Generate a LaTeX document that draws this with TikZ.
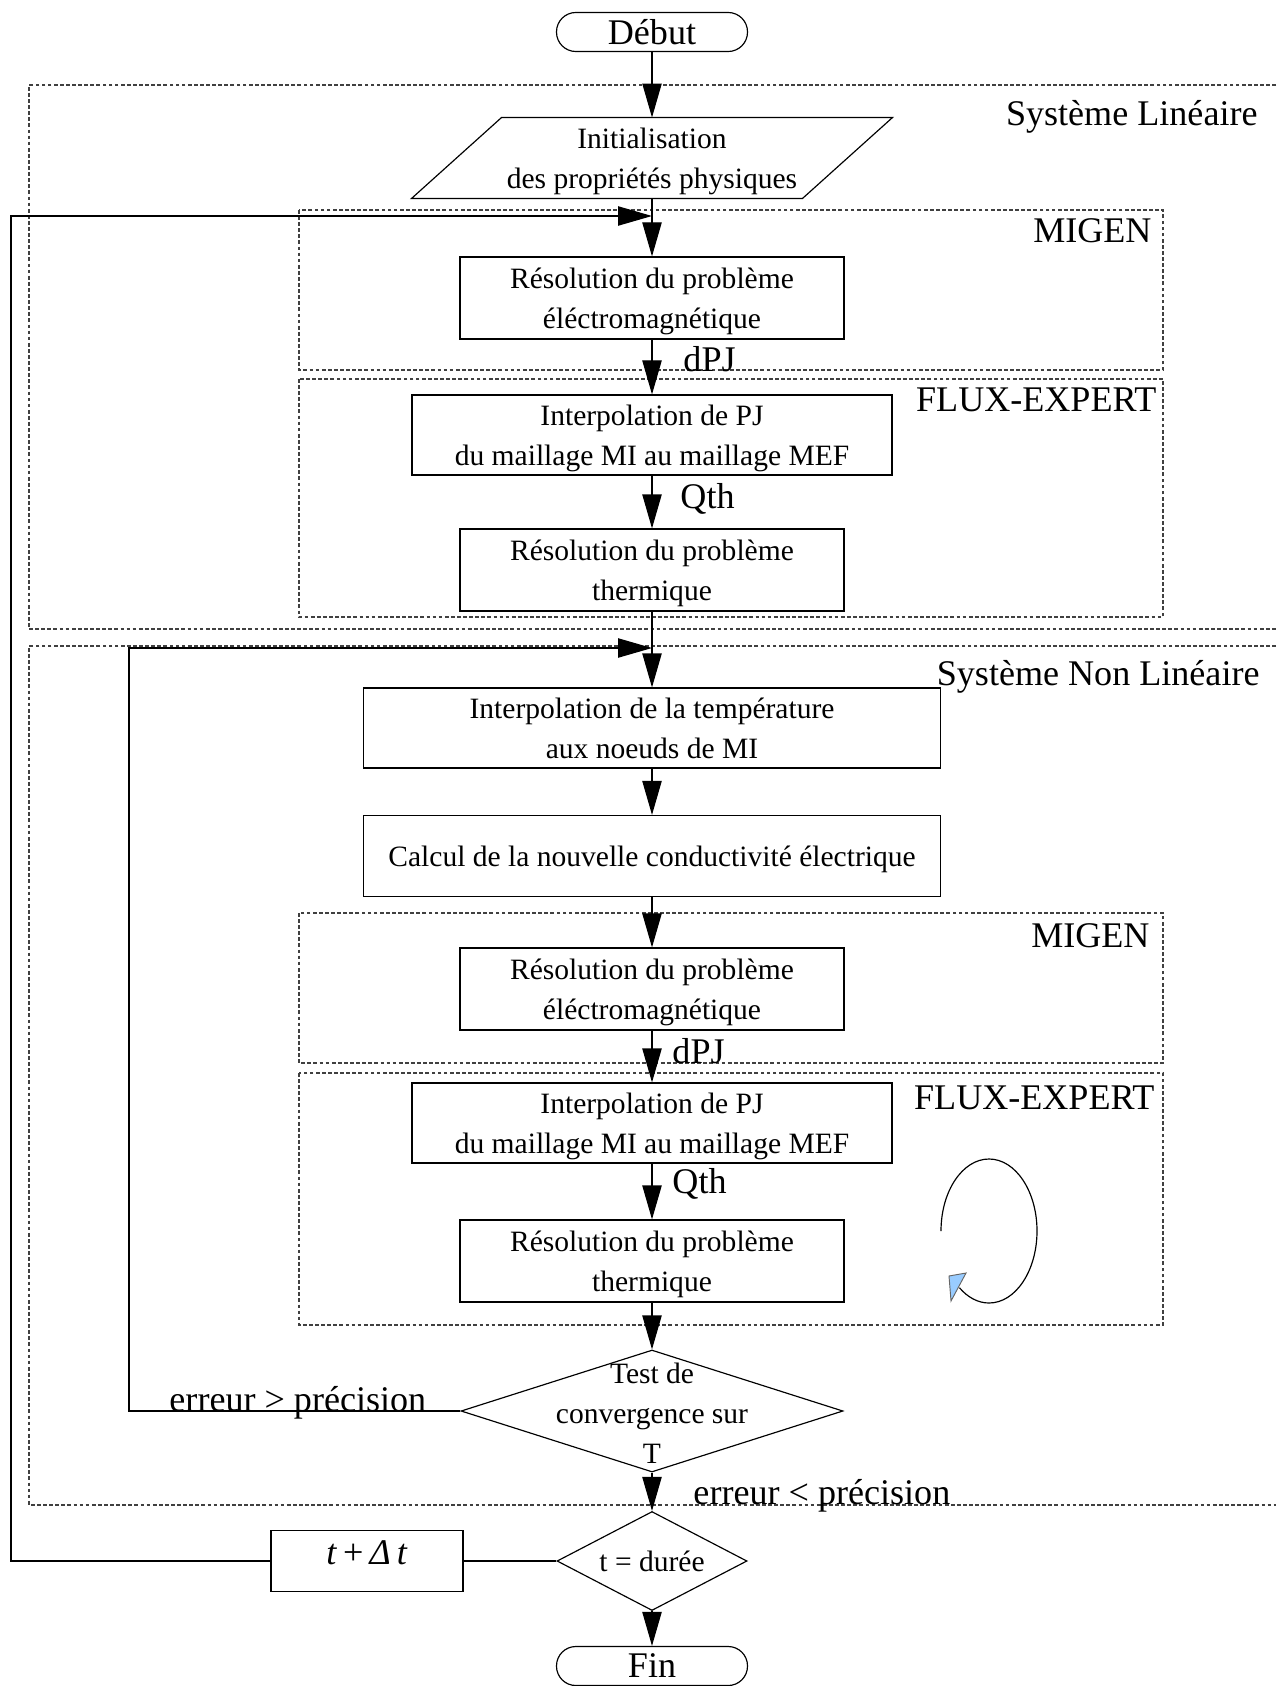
\documentclass[tikz,border=0pt]{standalone}
\usepackage{fontspec}
\setmainfont{Liberation Serif}
\usetikzlibrary{positioning, arrows.meta, shapes.geometric, calc}

\definecolor{turnblue}{HTML}{99CCFF}
\def\pix{0.015cm}
\newcommand{\boxfont}{\fontsize{12.6}{17}\selectfont}
\newcommand{\bigfont}{\fontsize{15.4}{18}\selectfont}

\tikzset{
    line/.style={line width=0.5pt, draw=black},
    flow/.style={line, -{Triangle[length=5.1mm, width=2.9mm]}},
    zone/.style={draw=black!75, line width=0.5pt, dash pattern=on 1.6pt off 1pt},
    zonelabel/.style={anchor=east, font=\bigfont, inner sep=0pt},
    flowlabel/.style={anchor=west, font=\bigfont, inner sep=0pt},
    procbox/.style={rectangle, line, inner sep=0pt, font=\boxfont, align=center,
        text depth=0pt, minimum width=5.76cm, minimum height=1.23cm},
    widebox/.style={procbox, minimum width=7.2cm, minimum height=1.2cm},
    longbox/.style={procbox, minimum width=8.655cm, minimum height=1.2cm},
    terminal/.style={rectangle, line, rounded corners=0.29cm, inner sep=0pt,
        font=\bigfont, minimum width=2.865cm, minimum height=0.585cm},
    decision/.style={diamond, line, inner sep=0pt, aspect=1}
}

\begin{document}
\begin{tikzpicture}[x=\pix, y=-\pix]
    \useasboundingbox (0,0) rectangle (1276,1686);
    \clip (0,0) rectangle (1276,1686);

    % zones
    \draw[zone] (1276,85) -- (29,85) -- (29,629) -- (1276,629);
    \draw[zone] (1276,646) -- (29,646) -- (29,1505) -- (1276,1505);
    \draw[zone] (299,210) rectangle (1163,370);
    \draw[zone] (299,379) rectangle (1163,617);
    \draw[zone] (299,913) rectangle (1163,1063);
    \draw[zone] (299,1073) rectangle (1163,1325);

    \node[zonelabel] (lin) at (1258,117) {Système Linéaire};
    \node[zonelabel] (nonlin) at (1260,677) {Système Non Linéaire};
    \node[zonelabel] (migenA) at (1152,231) {MIGEN};
    \node[zonelabel] (fluxA) at (1157,400) {FLUX-EXPERT};
    \node[zonelabel] (migenB) at (1150,936) {MIGEN};
    \node[zonelabel] (fluxB) at (1155,1098) {FLUX-EXPERT};

    % steps
    \node[terminal] (debut) at (652,32) {Début};
    \node[inner sep=0pt, font=\boxfont, align=center, text depth=0pt,
        minimum width=5.85cm, minimum height=1.2cm] (init) at (652,158)
        {Initialisation\\des propriétés physiques};
    \draw[line] ([xshift=-0.675cm]init.south west) -- ([xshift=-0.675cm]init.south east)
        -- ([xshift=0.675cm]init.north east) -- ([xshift=0.675cm]init.north west) -- cycle;

    \node[procbox] (emA) at (652,298) {Résolution du problème\\éléctromagnétique};
    \node[widebox] (ipA) at (652,435) {Interpolation de PJ\\du maillage MI au maillage MEF};
    \node[procbox] (thA) at (652,570) {Résolution du problème\\thermique};

    \node[longbox] (temp) at (652,728) {Interpolation de la température\\aux noeuds de MI};
    \node[longbox, minimum height=1.215cm] (calc) at (652,856) {Calcul de la nouvelle conductivité électrique};
    \node[procbox] (emB) at (652,989) {Résolution du problème\\éléctromagnétique};
    \node[widebox] (ipB) at (652,1123) {Interpolation de PJ\\du maillage MI au maillage MEF};
    \node[procbox] (thB) at (652,1261) {Résolution du problème\\thermique};

    \node[decision, minimum width=5.73cm, minimum height=1.83cm] (conv) at (652,1411) {};
    \node[font=\boxfont, align=center, inner sep=0pt] (convtext) at (652,1413)
        {Test de\\convergence sur\\T};
    \node[decision, minimum width=2.85cm, minimum height=1.485cm] (dur) at (652,1561) {};
    \node[font=\boxfont, inner sep=0pt] (durtext) at (652,1561) {t = durée};
    \node[procbox, minimum width=2.88cm, minimum height=0.915cm] (dt) at (367,1561) {};
    \node[font=\bigfont, inner sep=0pt] (dttext) at (367,1553) {\textit{t}\,+\,\textit{Δ\,t}};
    \node[terminal] (fin) at (652,1666) {Fin};

    % flow
    \coordinate (backA) at (652,216);
    \coordinate (backB) at (652,648);
    \draw[flow] (debut) -- (init);
    \draw[flow] (init) -- (emA);
    \draw[flow] (emA) -- (ipA);
    \draw[flow] (ipA) -- (thA);
    \draw[flow] (thA) -- (temp);
    \draw[flow] (temp) -- (calc);
    \draw[flow] (calc) -- (emB);
    \draw[flow] (emB) -- (ipB);
    \draw[flow] (ipB) -- (thB);
    \draw[flow] (thB) -- (conv);
    \draw[flow] (conv) -- (dur);
    \draw[flow] (dur) -- (fin);
    \draw[line] (dur) -- (dt);
    \draw[flow] (dt) -- (11,1561) |- (backA);
    \draw[flow] (conv) -- (129,1411) |- (backB);

    \node[flowlabel] (dpjA) at (683,359) {dPJ};
    \node[flowlabel] (qthA) at (680,499) {Qth};
    \node[flowlabel] (dpjB) at (672,1051) {dPJ};
    \node[flowlabel] (qthB) at (672,1184) {Qth};
    \node[flowlabel, anchor=base west] (errsup) at (169,1411) {erreur > précision};
    \node[flowlabel, anchor=base west] (errinf) at (693,1504) {erreur < précision};

    % turning arrow
    \draw[line] (941,1231) arc[start angle=180, end angle=-128, x radius=0.72cm, y radius=1.08cm];
    \draw[fill=turnblue, draw=black!60, line width=0.4pt] (949,1276) -- (966,1273) -- (951,1301) -- cycle;
\end{tikzpicture}
\end{document}
